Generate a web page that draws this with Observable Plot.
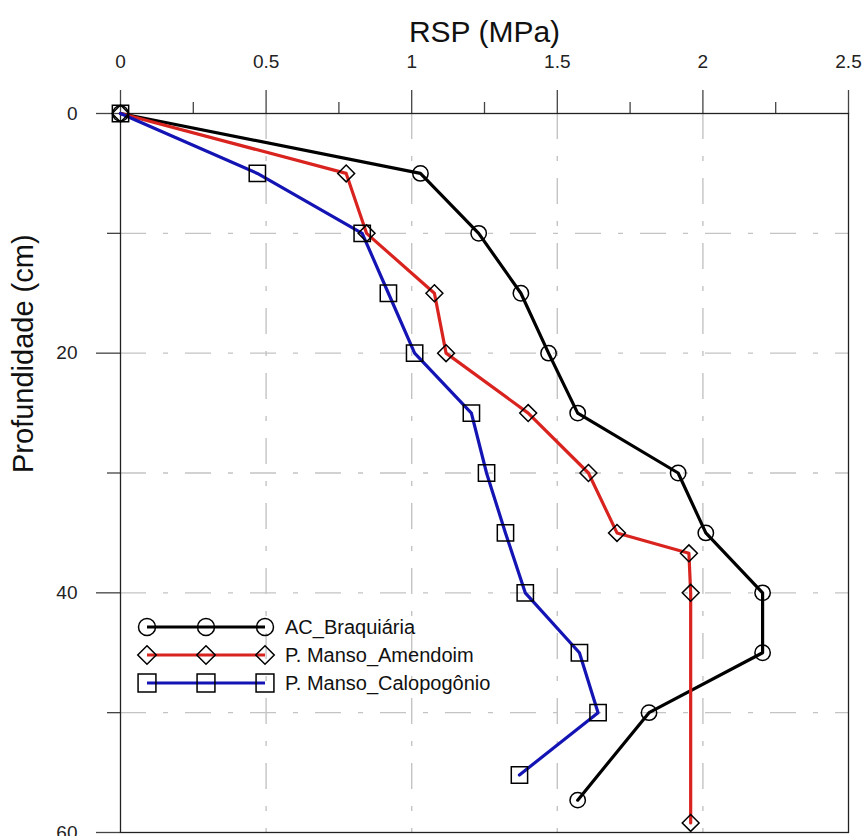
<!DOCTYPE html>
<html>
<head>
<meta charset="utf-8">
<script src="https://cdn.jsdelivr.net/npm/d3@7"></script>
<script src="https://cdn.jsdelivr.net/npm/@observablehq/plot@0.6"></script>
<style>
  html, body { margin: 0; padding: 0; background: #fff; }
  #chart { position: relative; width: 862px; height: 836px; overflow: hidden; }
</style>
</head>
<body>
<div id="chart"></div>
<script>
// ---- data ----
const seriesNames = ["AC_Braquiária", "P. Manso_Amendoim", "P. Manso_Calopogônio"];
const seriesColors = ["#000000", "#d9231f", "#1414b4"];
const seriesSymbols = ["circle", "diamond2", "square"];

const depthBraq = [0, 5, 10, 15, 20, 25, 30, 35, 40, 45, 50, 57.3];
const rspBraq   = [0, 1.03, 1.23, 1.375, 1.47, 1.57, 1.915, 2.01, 2.205, 2.205, 1.815, 1.57];

const depthAmend = [0, 5, 10, 15, 20, 25, 30, 35, 36.7, 40, 59.2];
const rspAmend   = [0, 0.775, 0.845, 1.078, 1.118, 1.4, 1.607, 1.705, 1.952, 1.958, 1.958];

const depthCalop = [0, 5, 10, 15, 20, 25, 30, 35, 40, 45, 50, 55.2];
const rspCalop   = [0, 0.47, 0.83, 0.92, 1.01, 1.205, 1.257, 1.322, 1.39, 1.576, 1.64, 1.37];

const xTicks = [0, 0.5, 1, 1.5, 2, 2.5];
const xMinorTicks = [0.25, 0.75, 1.25, 1.75, 2.25];
const yTicks = [0, 20, 40, 60];
const yMinorTicks = [10, 30, 50];
const xGrid = [0.5, 1, 1.5, 2];
const yGrid = [10, 20, 30, 40, 50];

const xTitle = "RSP (MPa)";
const yTitle = "Profundidade (cm)";

// ---- build tables ----
const toRows = (xs, ys, s) => xs.map((x, i) => ({rsp: x, depth: ys[i], serie: s}));
const series = [
  toRows(rspBraq, depthBraq, 0),
  toRows(rspAmend, depthAmend, 1),
  toRows(rspCalop, depthCalop, 2)
];

const markerR = [7.7, 7.6, 9.2];
const gridStyle = {stroke: "#c4c4c4", strokeOpacity: 1, strokeWidth: 1.4, strokeDasharray: "26,17,5,17"};
const tickStroke = "#444";
const fmt = d => String(d);

const plot = Plot.plot({
  width: 862,
  height: 836,
  marginTop: 113,
  marginLeft: 120,
  marginRight: 14,
  marginBottom: 4,
  style: {fontFamily: "'Liberation Sans', Arial, sans-serif", background: "#fff", color: "#222"},
  x: {domain: [0, 2.5]},
  y: {domain: [0, 60], reverse: true},
  marks: [
    Plot.gridX(xGrid, gridStyle),
    Plot.gridY(yGrid, gridStyle),
    Plot.axisX(xTicks, {anchor: "top", tickSize: 24, tickPadding: 22, fontSize: 19, tickFormat: fmt, label: null, stroke: tickStroke, strokeWidth: 1.3}),
    Plot.axisX(xMinorTicks, {anchor: "top", tickSize: 12, tickFormat: () => "", label: null, stroke: tickStroke, strokeWidth: 1.3}),
    Plot.axisY(yTicks, {anchor: "left", tickSize: 24, tickPadding: 19, fontSize: 19, tickFormat: fmt, label: null, stroke: tickStroke, strokeWidth: 1.3}),
    Plot.axisY(yMinorTicks, {anchor: "left", tickSize: 13, tickFormat: () => "", label: null, stroke: tickStroke, strokeWidth: 1.3}),
    Plot.frame({stroke: "#222", strokeWidth: 1.3}),
    Plot.text([xTitle], {frameAnchor: "top", dy: -81, lineAnchor: "middle", fontSize: 30, fill: "#111"}),
    Plot.text([yTitle], {frameAnchor: "left", dx: -97, lineAnchor: "middle", rotate: -90, fontSize: 29, fill: "#111"}),
    ...series.map((rows, i) => Plot.line(rows, {x: "rsp", y: "depth", stroke: seriesColors[i], strokeWidth: 3.2, strokeLinejoin: "round"})),
    ...series.map((rows, i) => Plot.dot(rows, {x: "rsp", y: "depth", symbol: seriesSymbols[i], r: markerR[i], fill: "none", stroke: "#000", strokeWidth: 1.5}))
  ]
});

document.getElementById("chart").appendChild(plot);

// ---- legend (drawn inside the SVG, inside the plot area) ----
const svg = d3.select(plot);
const lg = svg.append("g").attr("transform", "translate(147,627)");
const rowGap = 28;
const sampleXs = [0, 59, 118];
seriesNames.forEach((name, i) => {
  const g = lg.append("g").attr("transform", `translate(0,${i * rowGap})`);
  g.append("line").attr("x1", 0).attr("x2", 118).attr("y1", 0).attr("y2", 0)
    .attr("stroke", seriesColors[i]).attr("stroke-width", 3.2);
  const symType = {circle: d3.symbolCircle, diamond2: d3.symbolDiamond2, square: d3.symbolSquare}[seriesSymbols[i]];
  const size = Math.PI * markerR[i] * markerR[i];
  sampleXs.forEach(sx => {
    if (seriesSymbols[i] === "circle") {
      g.append("circle").attr("cx", sx).attr("cy", 0).attr("r", markerR[i] + 0.8)
        .attr("fill", "none").attr("stroke", "#000").attr("stroke-width", 1.5);
    } else {
      g.append("path").attr("d", d3.symbol(symType, size * 1.2)()).attr("transform", `translate(${sx},0)`)
        .attr("fill", "none").attr("stroke", "#000").attr("stroke-width", 1.5);
    }
  });
  g.append("text").attr("x", 138).attr("y", 0).attr("dy", "0.35em")
    .attr("text-anchor", "start")
    .attr("font-size", 20).attr("fill", "#111")
    .attr("font-family", "'Liberation Sans', Arial, sans-serif")
    .text(name);
});
</script>
</body>
</html>
